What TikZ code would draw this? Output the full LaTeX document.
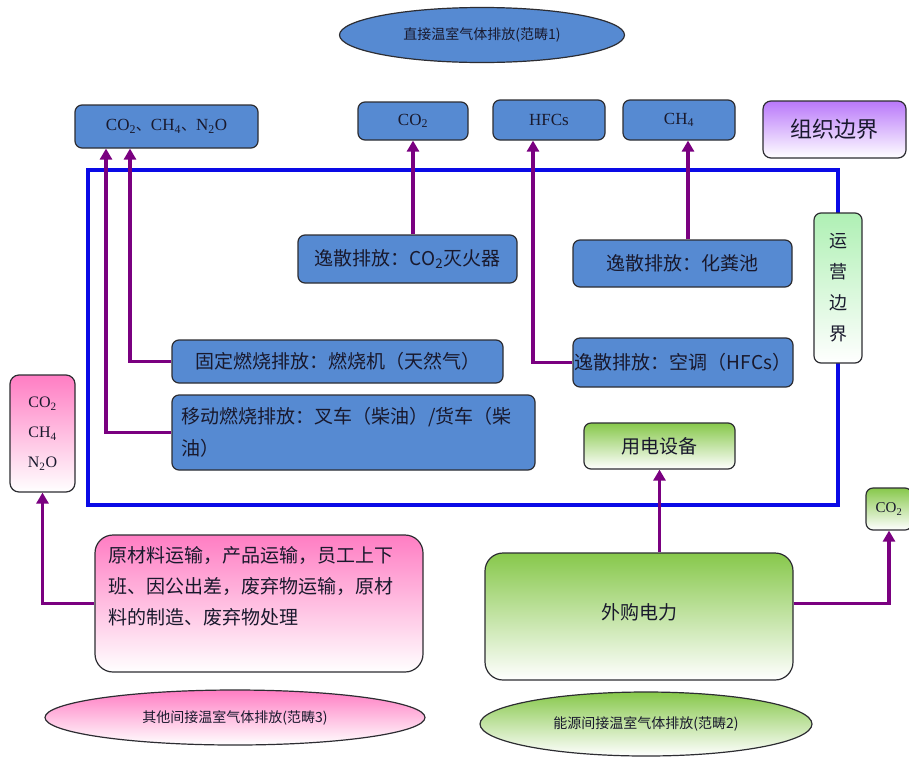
\documentclass[tikz,border=0pt]{standalone}
\usepackage{fontspec}
\setmainfont{Noto Sans CJK SC}
\newfontfamily\latf{Liberation Serif}
\newfontfamily\cjkf{Noto Sans CJK SC}
\usetikzlibrary{arrows.meta,shapes.geometric}
\definecolor{boxblue}{RGB}{86,138,210}
\definecolor{edgec}{RGB}{45,45,50}
\definecolor{txtc}{RGB}{25,25,45}
\definecolor{purp}{RGB}{122,0,128}
\definecolor{frameblue}{RGB}{10,10,230}
\definecolor{pinktop}{RGB}{255,125,195}
\definecolor{greentop}{RGB}{135,200,75}
\definecolor{violettop}{RGB}{185,120,250}
\definecolor{mintop}{RGB}{175,240,180}
\tikzset{
  bbox/.style={draw=edgec, line width=1.2pt, rounded corners=7pt, fill=boxblue, inner sep=0pt, text=txtc, font=\fontsize{19}{22}\selectfont},
  chem/.style={bbox, font=\latf\fontsize{17}{20}\selectfont},
  pinkbox/.style={draw=edgec, line width=1.2pt, inner sep=0pt, top color=pinktop, bottom color=white, text=txtc},
  greenbox/.style={draw=edgec, line width=1.2pt, inner sep=0pt, top color=greentop, bottom color=white, text=txtc},
  ell/.style={ellipse, draw=edgec, line width=1.2pt, inner sep=0pt, text=txtc, font=\fontsize{14}{16}\selectfont},
  arr/.style={draw=purp, line width=3.5pt, -{Triangle[width=12pt,length=11pt]}},
  plaintext/.style={inner sep=0pt, text=txtc}
}
\begin{document}
\begin{tikzpicture}[x=1pt,y=-1pt]
\useasboundingbox (0,0) rectangle (909,758);
\fill[white] (0,0) rectangle (909,758);

% frame
\node[draw=frameblue, line width=4pt, minimum width=750pt, minimum height=335pt, inner sep=0pt] (frame) at (463,337.5) {};

% top ellipse
\node[ell, fill=boxblue, minimum width=285pt, minimum height=55pt] (e1) at (482,35) {直接温室气体排放(范畴1)};

% gas boxes
\node[chem, minimum width=183pt, minimum height=43pt] (gas1) at (166.5,126.5) {CO\textsubscript{2}{\cjkf\fontsize{15}{18}\selectfont 、}CH\textsubscript{4}{\cjkf\fontsize{15}{18}\selectfont 、}N\textsubscript{2}O};
\node[chem, minimum width=110pt, minimum height=38pt] (co2a) at (413,121) {CO\textsubscript{2}};
\node[chem, minimum width=112pt, minimum height=40pt] (hfc) at (549,120) {HFCs};
\node[chem, minimum width=112pt, minimum height=40pt] (ch4) at (679,120) {CH\textsubscript{4}};

% org boundary
\node[draw=edgec, line width=1.2pt, rounded corners=8pt, inner sep=0pt, top color=violettop, bottom color=white, text=txtc, font=\fontsize{22}{24}\selectfont, minimum width=143pt, minimum height=57pt] (org) at (834.5,129.5) {组织边界};

% operations boundary
\node[draw=edgec, line width=1.2pt, rounded corners=7pt, inner sep=0pt, top color=mintop, bottom color=white, text=txtc, font=\fontsize{18}{31}\selectfont, align=center, minimum width=48pt, minimum height=150pt] (ops) at (838,288) {运\\营\\边\\界};

% inner blue boxes
\node[bbox, minimum width=219pt, minimum height=48pt] (fire) at (407.5,259) {逸散排放：CO\textsubscript{2}灭火器};
\node[bbox, minimum width=219pt, minimum height=47pt] (septic) at (682.5,263.5) {逸散排放：化粪池};
\node[bbox, minimum width=331pt, minimum height=43pt] (fixed) at (337.5,361.5) {固定燃烧排放：燃烧机（天然气）};
\node[bbox, minimum width=220pt, minimum height=49pt] (ac) at (683,362.5) {逸散排放：空调（HFCs）};
\node[bbox, minimum width=363pt, minimum height=75pt, align=left, text width=345pt, font=\fontsize{19}{32}\selectfont] (mobile) at (353.5,432.5) {移动燃烧排放：叉车（柴油）/货车（柴\\油）};

% equipment
\node[greenbox, rounded corners=7pt, minimum width=151pt, minimum height=46pt, font=\fontsize{19}{22}\selectfont] (equip) at (659.5,446) {用电设备};

% left pink small box
\node[pinkbox, rounded corners=9pt, minimum width=65pt, minimum height=117pt, align=center, font=\latf\fontsize{16}{30}\selectfont] (pinksmall) at (42.5,433.5) {CO\textsubscript{2}\\CH\textsubscript{4}\\N\textsubscript{2}O};

% right green small box
\node[greenbox, rounded corners=7pt, minimum width=46pt, minimum height=42pt, font=\latf\fontsize{15}{18}\selectfont] (co2b) at (889,509) {CO\textsubscript{2}};

% bottom big boxes
\node[pinkbox, rounded corners=18pt, minimum width=328pt, minimum height=137pt] (pinkbig) at (259,603.5) {};
\node[plaintext, anchor=north west, align=left, font=\fontsize{19}{31}\selectfont] (pinktext) at (108,546) {原材料运输，产品运输，员工上下\\班、因公出差，废弃物运输，原材\\料的制造、废弃物处理};
\node[greenbox, rounded corners=18pt, minimum width=308pt, minimum height=127pt, font=\fontsize{19}{22}\selectfont] (greenbig) at (639,616.5) {\raisebox{10pt}{外购电力}};

% bottom ellipses
\node[ell, top color=pinktop, bottom color=white, minimum width=380pt, minimum height=55pt] (e3) at (235,717.5) {其他间接温室气体排放(范畴3)};
\node[ell, top color=greentop, bottom color=white, minimum width=332pt, minimum height=64pt] (e2) at (646,724) {能源间接温室气体排放(范畴2)};

% connectors
\draw[arr] (fixed.west) -| ([xshift=-36.5pt]gas1.south);
\draw[arr] (mobile.west) -| ([xshift=-60.5pt]gas1.south);
\draw[arr] (co2a.south |- fire.north) -- (co2a.south);
\draw[arr] (ac.west) -| ([xshift=-16pt]hfc.south);
\draw[arr] ([xshift=5.5pt]septic.north) -- ([xshift=9pt]ch4.south);
\draw[arr] (equip.south |- greenbig.north) -- (equip.south);
\draw[arr] ([yshift=13pt]greenbig.east) -| (co2b.south);
\draw[arr] (pinkbig.west) -| (pinksmall.south);
\end{tikzpicture}
\end{document}
